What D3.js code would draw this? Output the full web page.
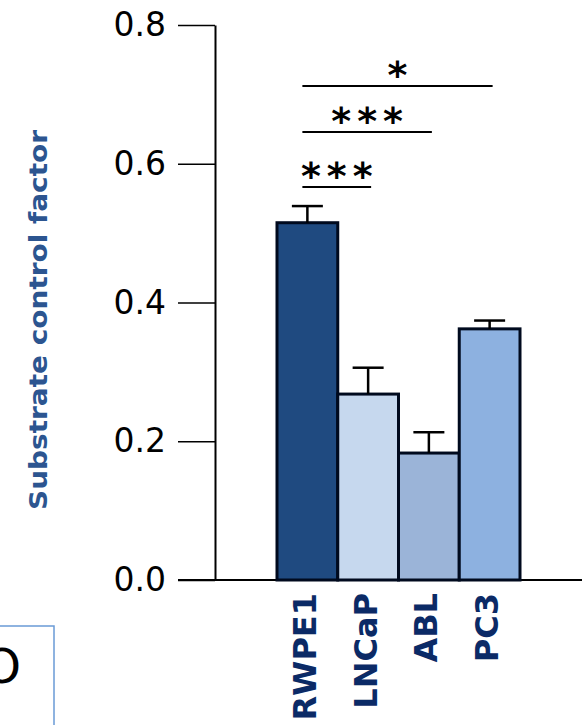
<!DOCTYPE html>
<html>
<head>
<meta charset="utf-8">
<script src="https://cdn.jsdelivr.net/npm/d3@7/dist/d3.min.js"></script>
<style>
  html, body { margin: 0; padding: 0; background: #fff; }
  svg { display: block; }
</style>
</head>
<body>
<script>
// Substrate control factor per cell line
const categories = ["RWPE1", "LNCaP", "ABL", "PC3"];
const values = [0.515, 0.268, 0.183, 0.362];
const errors = [0.024, 0.038, 0.03, 0.012];
const barColors = ["#1f4a80", "#c6d8ee", "#9bb4d8", "#8db1e0"];
const yTicks = [0.0, 0.2, 0.4, 0.6, 0.8];
const yTitle = "Substrate control factor";
// Pairwise comparisons against RWPE1
const compFrom = ["RWPE1", "RWPE1", "RWPE1"];
const compTo = ["PC3", "ABL", "LNCaP"];
const compLabels = ["*", "***", "***"];

const W = 582, H = 725;
const svg = d3.select("body").append("svg").attr("width", W).attr("height", H);

const y = d3.scaleLinear().domain([0, 0.8]).range([580, 25]);
const x = d3.scaleBand().domain(categories).range([277, 520]).padding(0);

// baseline running to the right edge
svg.append("line")
  .attr("x1", 178).attr("x2", W).attr("y1", y(0)).attr("y2", y(0))
  .attr("stroke", "#000").attr("stroke-width", 2);

// y axis
const yAxis = d3.axisLeft(y)
  .tickValues(yTicks)
  .tickFormat(d3.format(".1f"))
  .tickSize(37)
  .tickSizeOuter(0)
  .tickPadding(12);
const gy = svg.append("g").attr("transform", "translate(215,0)").call(yAxis);
gy.select(".domain").attr("stroke", "#000").attr("stroke-width", 2);
gy.selectAll(".tick line").attr("stroke", "#000").attr("stroke-width", 1.6);
gy.selectAll(".tick text")
  .attr("fill", "#000")
  .style("font-family", "'DejaVu Sans', sans-serif")
  .style("font-size", "33px");

// bars
svg.selectAll("rect.bar").data(categories).join("rect")
  .attr("class", "bar")
  .attr("x", d => x(d))
  .attr("width", x.bandwidth())
  .attr("y", (d, i) => y(values[i]))
  .attr("height", (d, i) => y(0) - y(values[i]))
  .attr("fill", (d, i) => barColors[i])
  .attr("stroke", "#000a1e")
  .attr("stroke-width", 3);

// error bars (upper)
const capHalf = 15.5;
const eb = svg.selectAll("g.err").data(categories).join("g").attr("class", "err");
eb.append("line")
  .attr("x1", d => x(d) + x.bandwidth() / 2)
  .attr("x2", d => x(d) + x.bandwidth() / 2)
  .attr("y1", (d, i) => y(values[i]))
  .attr("y2", (d, i) => y(values[i] + errors[i]))
  .attr("stroke", "#000").attr("stroke-width", 2.5);
eb.append("line")
  .attr("x1", d => x(d) + x.bandwidth() / 2 - capHalf)
  .attr("x2", d => x(d) + x.bandwidth() / 2 + capHalf)
  .attr("y1", (d, i) => y(values[i] + errors[i]))
  .attr("y2", (d, i) => y(values[i] + errors[i]))
  .attr("stroke", "#000").attr("stroke-width", 2.5);

// significance brackets
const bracketY = [86, 132, 187];
const cx = c => x(c) + x.bandwidth() / 2;
const starGap = 6;
compFrom.forEach((a, i) => {
  const x1 = cx(a) - 5, x2 = cx(compTo[i]) + 3;
  svg.append("line")
    .attr("x1", x1).attr("x2", x2)
    .attr("y1", bracketY[i]).attr("y2", bracketY[i])
    .attr("stroke", "#000").attr("stroke-width", 2);
  svg.append("text")
    .attr("x", (x1 + x2) / 2 + starGap / 2)
    .attr("y", bracketY[i] + 2)
    .attr("text-anchor", "middle")
    .attr("fill", "#000")
    .style("font-family", "'DejaVu Sans', sans-serif")
    .style("font-weight", "bold")
    .style("font-size", "38px")
    .style("letter-spacing", starGap + "px")
    .text(compLabels[i]);
});

// category labels
svg.selectAll("text.cat").data(categories).join("text")
  .attr("class", "cat")
  .attr("transform", d => `translate(${cx(d) - 3},593) rotate(-90)`)
  .attr("text-anchor", "end")
  .attr("dy", "0.36em")
  .attr("fill", "#0b2a66")
  .style("font-family", "'DejaVu Sans', sans-serif")
  .style("font-weight", "bold")
  .style("font-size", "32px")
  .text(d => d);

// y axis title
svg.append("text")
  .attr("transform", "translate(38,320) rotate(-90)")
  .attr("text-anchor", "middle")
  .attr("dy", "0.36em")
  .attr("fill", "#2c5590")
  .attr("textLength", 380)
  .attr("lengthAdjust", "spacingAndGlyphs")
  .style("font-family", "'DejaVu Sans', sans-serif")
  .style("font-weight", "bold")
  .style("font-size", "25px")
  .text(yTitle);

// neighbouring panel box at the lower left
svg.append("rect")
  .attr("x", -10).attr("y", 626).attr("width", 64).attr("height", 120)
  .attr("fill", "none").attr("stroke", "#6a9ad6").attr("stroke-width", 1.5);
svg.append("text")
  .attr("x", 21).attr("y", 683)
  .attr("text-anchor", "end")
  .attr("fill", "#000")
  .style("font-family", "'DejaVu Sans', sans-serif")
  .style("font-size", "48px")
  .text("O");
</script>
</body>
</html>
